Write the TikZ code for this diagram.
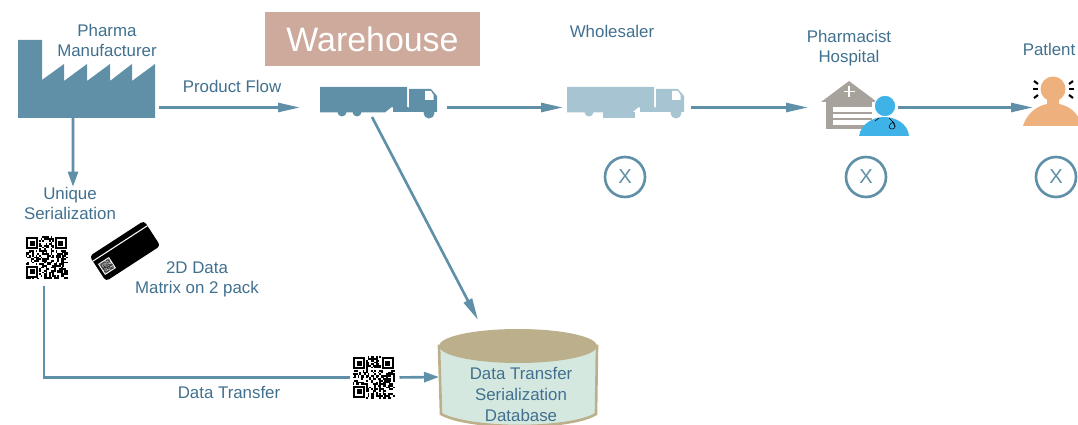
\documentclass[tikz,border=0pt]{standalone}
\usepackage{fontspec}
\setmainfont{Liberation Sans}
\usetikzlibrary{arrows.meta,positioning,calc}

\definecolor{flowcol}{HTML}{5F90A8}
\definecolor{lorrylight}{HTML}{A6C4D2}
\definecolor{labelcol}{HTML}{41708F}
\definecolor{wareback}{HTML}{CDAA9C}
\definecolor{hospcol}{HTML}{A8A29C}
\definecolor{doccol}{HTML}{3FB3E8}
\definecolor{patcol}{HTML}{EEB07C}
\definecolor{dbtop}{HTML}{BCB08C}
\definecolor{dbbody}{HTML}{D5E8E0}

\tikzset{
	label text/.style={text=labelcol, font=\fontsize{9.6}{11.7}\selectfont, align=center, inner sep=0pt},
	slot/.style={inner sep=0pt, outer sep=0pt},
	flow/.style={draw=flowcol, line width=1.5pt, -{Triangle[length=.44cm,width=.18cm]}},
	flow short/.style={draw=flowcol, line width=1.5pt, -{Triangle[length=.3cm,width=.2cm]}},
	check/.style={circle, draw=flowcol, line width=1.5pt, minimum size=.8cm, inner sep=0pt, text=flowcol, font=\fontsize{11.5}{12}\selectfont},
	pics/lorry/.style={code={
		\fill[#1] (0,0) -- (87,0) -- (87,20.5) -- (71,20.5) -- (65,25.5) -- (0,25.5) -- cycle;
		\fill[#1] (73,20.5) rectangle (88,25);
		\fill[#1] (89,2) -- (111,2) -- (117,9) -- (117,25) -- (80,25) -- (80,20.5) -- (89,20.5) -- cycle;
		\fill[white] (105,4) -- (111,4) -- (113.5,8) -- (113.5,13) -- (105,13) -- cycle;
		\fill[#1] (109,26) circle (5.5);
		\fill[#1] (22,25) circle (4.5);
	}},
	pics/qrcode/.style={code={
		\pgfmathsetseed{#1}
		\foreach \i in {0,...,24}
			\foreach \j in {0,...,24} {
				\pgfmathrandominteger{\qrbit}{0}{1}
				\ifnum\qrbit=1
					\fill[black] (-21+\i*1.68,-21+\j*1.68) rectangle ++(1.72,1.72);
				\fi
			};
		\foreach \cx/\cy in {-14.3/-14.3, 14.3/-14.3, -14.3/14.3} {
			\fill[white] (\cx-6.7,\cy-6.7) rectangle (\cx+6.7,\cy+6.7);
			\fill[black] (\cx-5.9,\cy-5.9) rectangle (\cx+5.9,\cy+5.9);
			\fill[white] (\cx-4.2,\cy-4.2) rectangle (\cx+4.2,\cy+4.2);
			\fill[black] (\cx-2.5,\cy-2.5) rectangle (\cx+2.5,\cy+2.5);
		}
	}}
}

\begin{document}
\begin{tikzpicture}[x=0.02cm,y=-0.02cm]
	\useasboundingbox (0,0) rectangle (1078,425);

	% slots the connectors run between
	\node[slot, minimum width=2.74cm, minimum height=1.56cm] (factory) at (86.5,79) {};
	\node[slot, minimum width=2.34cm, minimum height=.8cm] (lorrya) at (378.5,107.5) {};
	\node[slot, minimum width=2.34cm, minimum height=.8cm] (lorryb) at (625.5,107.5) {};
	\node[slot, minimum width=1.48cm, minimum height=1.2cm] (pharmacy) at (858,107.5) {};
	\node[slot, minimum width=.8cm, minimum height=.8cm] (patient) at (1053,107.5) {};
	\node[slot, minimum width=.84cm, minimum height=.84cm] (qrsource) at (46.5,257.5) {};
	\node[slot, minimum width=.84cm, minimum height=.84cm] (qrbase) at (373.5,377.5) {};
	\node[slot, minimum width=3.16cm, minimum height=1.92cm] (base) at (518,377) {};

	% factory
	\fill[flowcol] (18,40) -- (42,40) -- (42,80) -- (64,64) -- (64,81) -- (87,64) -- (87,81) -- (110,64) -- (110,81) -- (132,64) -- (132,81) -- (155,64) -- (155,118) -- (18,118) -- cycle;

	% lorries
	\pic at (320,87) {lorry=flowcol};
	\fill[flowcol] (357,112) circle (4.5);
	\pic at (567,87) {lorry=lorrylight};
	\fill[lorrylight] (36,0) ++(567,87) ++(0,25) rectangle ++(32,6);

	% pharmacy
	\fill[hospcol] (821,102) -- (849,81) -- (877,102) -- cycle;
	\fill[hospcol] (826,102) rectangle (872,129);
	\fill[white] (833,107) rectangle (872,112);
	\fill[white] (833,114) rectangle (872,118.5);
	\fill[white] (833,120.5) rectangle (872,125);
	\draw[white, line width=1pt] (849,86) -- (849,97) (843.5,91.5) -- (854.5,91.5);
	\fill[doccol] (859,136) .. controls (861,124) and (873,117) .. (884,117) .. controls (896,117) and (908,124) .. (909,136) -- cycle;
	\fill[doccol, draw=white, line width=.5pt] (885,106) circle (10.7);
	\draw[black, line width=.3pt] (875,121) -- (879,118) (889,118) -- (893,122) -- (895,127);
	\draw[black, line width=.3pt] (893,122) .. controls (887,126) and (889,129) .. (892,129) .. controls (896,129) and (896,125) .. (893,122);

	% patient
	\fill[patcol] (1023,126) .. controls (1027,113) and (1037,106) .. (1047,104) -- (1047,98) -- (1059,98) -- (1059,104) .. controls (1069,106) and (1078,112) .. (1082,126) -- cycle;
	\fill[patcol] (1053,89) circle (12.5);
	\foreach \ax/\ay/\bx/\by in {1034/81/1038/84, 1033/89/1038/89, 1034/98/1038/95, 1073/81/1069/84, 1074/89/1069/89, 1073/98/1069/95}
		\draw[black, line width=1.2pt] (\ax,\ay) -- (\bx,\by);

	% codes and card
	\pic at (qrsource) {qrcode=11};
	\pic at (qrbase) {qrcode=23};
	\node[slot, fill=black, rounded corners=2pt, rotate=33, minimum width=1.3cm, minimum height=.6cm] (card) at (125,251) {};
	\draw[white, line width=.6pt] ($(card.north west)!.2!(card.south west)$) -- ($(card.north east)!.2!(card.south east)$);
	\fill[white, rotate around={33:(107,266)}] (100.5,259.5) rectangle (113.5,272.5);
	\pic[rotate=33, scale=.26] at (107,266) {qrcode=5};

	% database
	\path[fill=dbbody, draw=dbtop, line width=1.5pt] (439,346) -- (441,414) .. controls (470,430) and (570,430) .. (596,414) -- (597,346) -- cycle;
	\fill[dbtop] (518,346) ellipse (79 and 17);

	% texts
	\node[label text] (maker) at (107,40.5) {Pharma\\Manufacturer};
	\node[label text] (flowtext) at (232,86) {Product Flow};
	\node[fill=wareback, text=white, minimum width=4.3cm, minimum height=1.08cm, inner sep=0pt, font=\fontsize{19.3}{20}\selectfont] (warehouse) at (372.5,39) {Warehouse};
	\node[label text] (seller) at (612,31) {Wholesaler};
	\node[label text] (chemist) at (849,48) {Pharmacist\\Hospital};
	\node[label text] (sick) at (1049,49) {Patlent};
	\node[label text] (serial) at (70,203.5) {Unique\\Serialization};
	\node[label text] (matrix) at (197,279.5) {2D Data\\Matrix on 2 pack};
	\node[label text] (transfer) at (229,392) {Data Transfer};
	\node[label text] (basename) at (521,394.5) {Data Transfer\\Serialization\\Database};

	\node[check] (checka) at (625,177) {X};
	\node[check] (checkb) at (866,177) {X};
	\node[check] (checkc) at (1056,177) {X};

	% connectors
	\draw[flow, shorten <=.08cm, shorten >=.4cm] (factory.east |- lorrya.west) -- (lorrya.west);
	\draw[flow, shorten <=.2cm, shorten >=.08cm] (lorrya.east) -- (lorryb.west);
	\draw[flow, shorten <=.14cm, shorten >=.26cm] (lorryb.east) -- (pharmacy.west);
	\draw[flow, shorten <=.06cm] (pharmacy.east) -- (patient.west);
	\draw[flow short] ([xshift=-.27cm]factory.south) -- ([xshift=.06cm]serial.north);
	\draw[flow] ([xshift=-.13cm,yshift=.21cm]lorrya.south) -- ([xshift=-.8cm,yshift=.18cm]base.north);
	\draw[draw=flowcol, line width=1.5pt, shorten <=.16cm, shorten >=.06cm] ([xshift=-.05cm]qrsource.south) |- (qrbase.west);
	\draw[flow short, shorten <=.1cm] (qrbase.east) -- (base.west);
\end{tikzpicture}
\end{document}
